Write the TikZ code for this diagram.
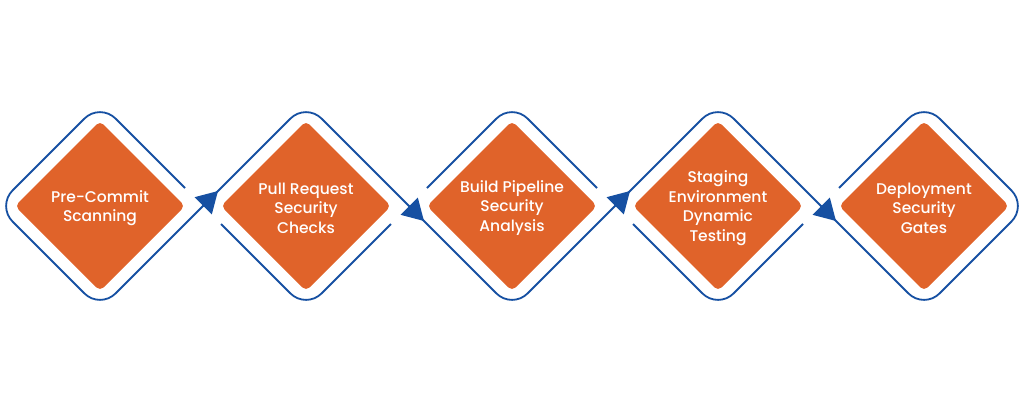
\documentclass[tikz,border=0pt]{standalone}
\usepackage{fontspec}
\IfFontExistsTF{Poppins Medium}{\setmainfont{Poppins Medium}}{\setmainfont{Poppins}[FakeBold=0.6]}
\usetikzlibrary{arrows.meta,calc}
\definecolor{dblue}{HTML}{1650A2}
\definecolor{dorange}{HTML}{E0632A}
\tikzset{
  outline/.style={draw=dblue, line width=1.8pt, rounded corners=22pt},
  core/.style={fill=dorange, rounded corners=5pt},
  lbl/.style={text=white, align=center, font=\fontsize{15.5}{19.5}\selectfont, inner sep=0pt},
  arrowtip/.style={draw=dblue, line width=1.8pt, -{Triangle[length=21pt,width=24pt]}},
}
\begin{document}
\begin{tikzpicture}[x=1pt,y=-1pt]
\useasboundingbox (0,0) rectangle (1023,413);
\foreach \i/\cx in {1/100,2/306,3/512,4/718,5/924}{
  \coordinate (T\i) at (\cx,103);
  \coordinate (B\i) at (\cx,309);
  \coordinate (L\i) at (\cx-103,206);
  \coordinate (R\i) at (\cx+103,206);
  \fill[core] (\cx,121) -- (\cx+85,206) -- (\cx,291) -- (\cx-85,206) -- cycle;
}
\node[lbl] (d1) at (100,208) {Pre-Commit\\Scanning};
\node[lbl] (d2) at (306,208) {Pull Request\\Security\\Checks};
\node[lbl] (d3) at (512,208) {Build Pipeline\\Security\\Analysis};
\node[lbl] (d4) at (718,208) {Staging\\Environment\\Dynamic\\Testing};
\node[lbl] (d5) at (924,208) {Deployment\\Security\\Gates};
% main zigzag line
\draw[outline] ($(R1)+(-18,-18)$) -- (T1) -- (L1) -- (B1) -- (T2) -- (B3) -- (T4) -- (B5) -- (R5) -- (T5) -- ($(L5)+(18,-18)$);
% remaining halves
\draw[outline] ($(L2)+(18,18)$) -- (B2) -- ($(R2)+(-18,18)$);
\draw[outline] ($(L3)+(18,-18)$) -- (T3) -- ($(R3)+(-18,-18)$);
\draw[outline] ($(L4)+(18,18)$) -- (B4) -- ($(R4)+(-18,18)$);
% arrowheads
\draw[arrowtip] (R1) -- ++(15,-15);
\draw[arrowtip] (R2) -- ++(15,15);
\draw[arrowtip] (R3) -- ++(15,-15);
\draw[arrowtip] (R4) -- ++(15,15);
\end{tikzpicture}
\end{document}
